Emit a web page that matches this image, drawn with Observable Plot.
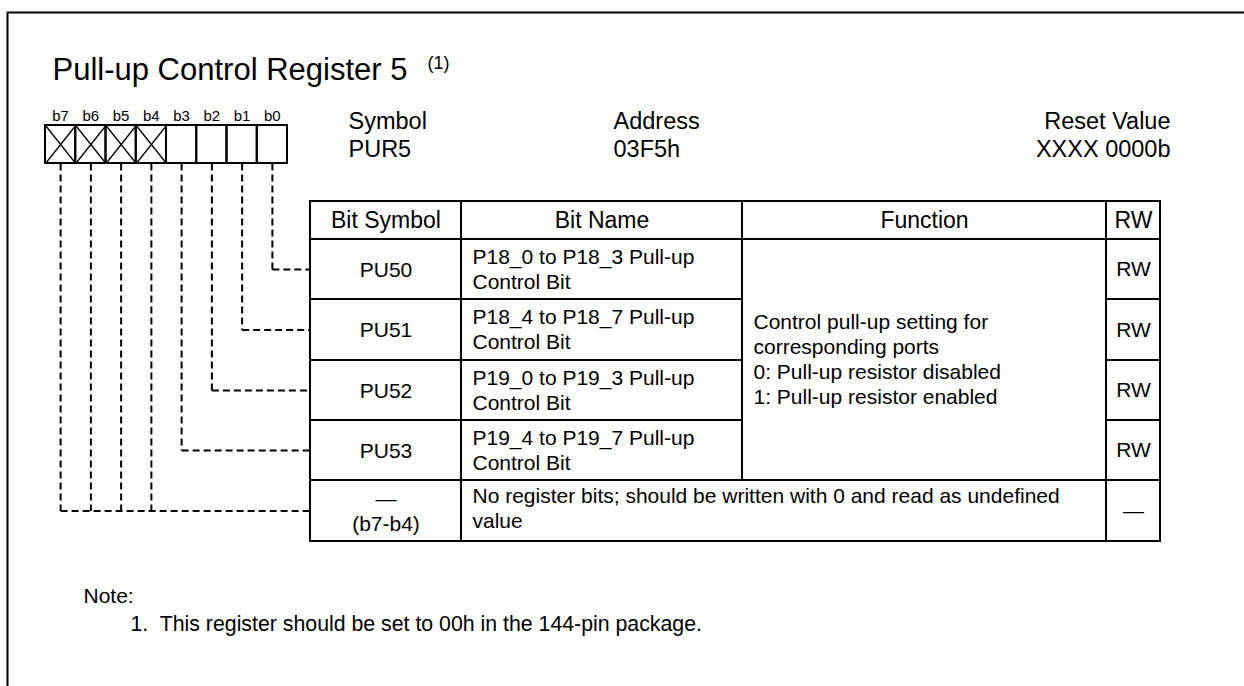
<!DOCTYPE html>
<html><head><meta charset="utf-8">
<script src="https://cdn.jsdelivr.net/npm/d3@7"></script>
<script src="https://cdn.jsdelivr.net/npm/@observablehq/plot@0.6"></script>
<style>html,body{margin:0;padding:0;background:#fff;overflow:hidden}</style>
</head><body><div id="chart"></div>
<script>
// ---------- data ----------
const title = "Pull-up Control Register 5";
const titleNoteRef = "(1)";
const bits = ["b7","b6","b5","b4","b3","b2","b1","b0"];
const reservedBits = ["b7","b6","b5","b4"];
const infoLabels = ["Symbol","Address","Reset Value"];
const infoValues = ["PUR5","03F5h","XXXX 0000b"];
const headers = ["Bit Symbol","Bit Name","Function","RW"];
const bitSymbols = ["PU50","PU51","PU52","PU53","—\n(b7-b4)"];
const bitNames = [
  "P18_0 to P18_3 Pull-up\nControl Bit",
  "P18_4 to P18_7 Pull-up\nControl Bit",
  "P19_0 to P19_3 Pull-up\nControl Bit",
  "P19_4 to P19_7 Pull-up\nControl Bit"
];
const reservedName = "No register bits; should be written with 0 and read as undefined\nvalue";
const functionText = "Control pull-up setting for\ncorresponding ports\n0: Pull-up resistor disabled\n1: Pull-up resistor enabled";
const rwValues = ["RW","RW","RW","RW","—"];
const rowBits = [["b0"],["b1"],["b2"],["b3"],["b7","b6","b5","b4"]];
const noteLabel = "Note:";
const notes = ["1.  This register should be set to 00h in the 144-pin package."];

// ---------- layout ----------
const W = 1244, H = 686;
const FONT = "'Liberation Sans', Arial, Helvetica, sans-serif";
const regX = d3.scaleBand().domain(bits).range([45, 287]);
const bw = regX.bandwidth();
const bitMid = b => regX(b) + bw / 2;
const regTop = 125, regBottom = 163;
const cols = [310, 461, 742, 1106, 1160];
const rows = [201, 239, 299, 360, 420, 480, 541];
const rowMid = i => (rows[i + 1] + rows[i + 2]) / 2;
const infoX = [348, 613, 1170];
const HF = 23;            // header font
const TF = 21, TLH = 25 / 21; // body font / line height
const IF = 23.5, ILH = 28 / 23.5;

// table cells (outlines)
const cells = [];
headers.forEach((h, i) => cells.push({x1: cols[i], x2: cols[i + 1], y1: rows[0], y2: rows[1]}));
bitSymbols.forEach((s, i) => {
  cells.push({x1: cols[0], x2: cols[1], y1: rows[i + 1], y2: rows[i + 2]});
  cells.push({x1: cols[3], x2: cols[4], y1: rows[i + 1], y2: rows[i + 2]});
});
bitNames.forEach((n, i) => cells.push({x1: cols[1], x2: cols[2], y1: rows[i + 1], y2: rows[i + 2]}));
cells.push({x1: cols[2], x2: cols[3], y1: rows[1], y2: rows[1 + bitNames.length]});
cells.push({x1: cols[1], x2: cols[3], y1: rows[bitNames.length + 1], y2: rows[bitNames.length + 2]});

// connectors
const vLinks = [], hLinks = [];
rowBits.forEach((bs, i) => {
  const y = rowMid(i);
  bs.forEach(b => vLinks.push({x: bitMid(b), y1: regBottom, y2: y}));
  hLinks.push({x1: d3.min(bs, bitMid), x2: cols[0], y});
});

const info = infoLabels.map((d, i) => ({x: infoX[i], text: d + "\n" + infoValues[i], end: i === infoLabels.length - 1}));

const ink = "#000";
const plot = Plot.plot({
  width: W, height: H, margin: 0,
  x: {domain: [0, W], range: [0, W], axis: null},
  y: {domain: [0, H], range: [0, H], axis: null},
  style: {fontFamily: FONT, color: ink, background: "#fff", overflow: "hidden"},
  marks: [
    // outer frame (only top and left edges visible)
    Plot.ruleX([7], {y1: 12, y2: H, stroke: ink, strokeWidth: 2}),
    Plot.ruleY([12], {x1: 7, x2: W, stroke: ink, strokeWidth: 2}),
    // title
    Plot.text([title], {x: 52, y: 79, text: d => d, textAnchor: "start", lineAnchor: "bottom", fontSize: 31}),
    Plot.text([titleNoteRef], {x: 427, y: 68, text: d => d, textAnchor: "start", lineAnchor: "bottom", fontSize: 18}),
    // info block
    Plot.text(info.filter(d => !d.end), {x: "x", y: 156, text: "text", textAnchor: "start", lineAnchor: "bottom", fontSize: IF, lineHeight: ILH}),
    Plot.text(info.filter(d => d.end), {x: "x", y: 156, text: "text", textAnchor: "end", lineAnchor: "bottom", fontSize: IF, lineHeight: ILH}),
    // register bit labels and cells
    Plot.text(bits, {x: bitMid, y: 120, text: d => d, lineAnchor: "bottom", fontSize: 15}),
    Plot.rect(bits, {x1: d => regX(d), x2: d => regX(d) + bw, y1: regTop, y2: regBottom, fill: "none", stroke: ink, strokeWidth: 2}),
    Plot.link(reservedBits, {x1: d => regX(d), x2: d => regX(d) + bw, y1: regTop, y2: regBottom, stroke: ink, strokeWidth: 1.3}),
    Plot.link(reservedBits, {x1: d => regX(d), x2: d => regX(d) + bw, y1: regBottom, y2: regTop, stroke: ink, strokeWidth: 1.3}),
    // dashed connectors
    Plot.link(vLinks, {x1: "x", x2: "x", y1: "y1", y2: "y2", stroke: ink, strokeWidth: 2, strokeDasharray: "7,4"}),
    Plot.link(hLinks, {x1: "x1", x2: "x2", y1: "y", y2: "y", stroke: ink, strokeWidth: 2, strokeDasharray: "7,4"}),
    // table
    Plot.rect(cells, {x1: "x1", x2: "x2", y1: "y1", y2: "y2", fill: "none", stroke: ink, strokeWidth: 2}),
    Plot.text(headers, {x: (d, i) => (cols[i] + cols[i + 1]) / 2, y: (rows[0] + rows[1]) / 2, text: d => d, fontSize: HF}),
    Plot.text(bitSymbols, {x: (cols[0] + cols[1]) / 2, y: (d, i) => rowMid(i), text: d => d, fontSize: TF, lineHeight: TLH, dy: -1}),
    Plot.text(bitNames, {x: cols[1] + 11, y: (d, i) => rowMid(i), text: d => d, textAnchor: "start", fontSize: TF, lineHeight: TLH, dy: -1.5}),
    Plot.text([reservedName], {x: cols[1] + 11, y: rowMid(bitNames.length), text: d => d, textAnchor: "start", fontSize: TF, lineHeight: TLH, dy: -3.5}),
    Plot.text([functionText], {x: cols[2] + 11, y: (rows[1] + rows[1 + bitNames.length]) / 2, text: d => d, textAnchor: "start", fontSize: TF, lineHeight: TLH, dy: -2}),
    Plot.text(rwValues, {x: (cols[3] + cols[4]) / 2, y: (d, i) => rowMid(i), text: d => d, fontSize: TF}),
    // notes
    Plot.text([noteLabel], {x: 83, y: 602, text: d => d, textAnchor: "start", lineAnchor: "bottom", fontSize: 21}),
    Plot.text(notes, {x: 130, y: (d, i) => 630 + i * 27, text: d => d, textAnchor: "start", lineAnchor: "bottom", fontSize: 21.3})
  ]
});
document.getElementById("chart").appendChild(plot);
</script>
</body></html>
